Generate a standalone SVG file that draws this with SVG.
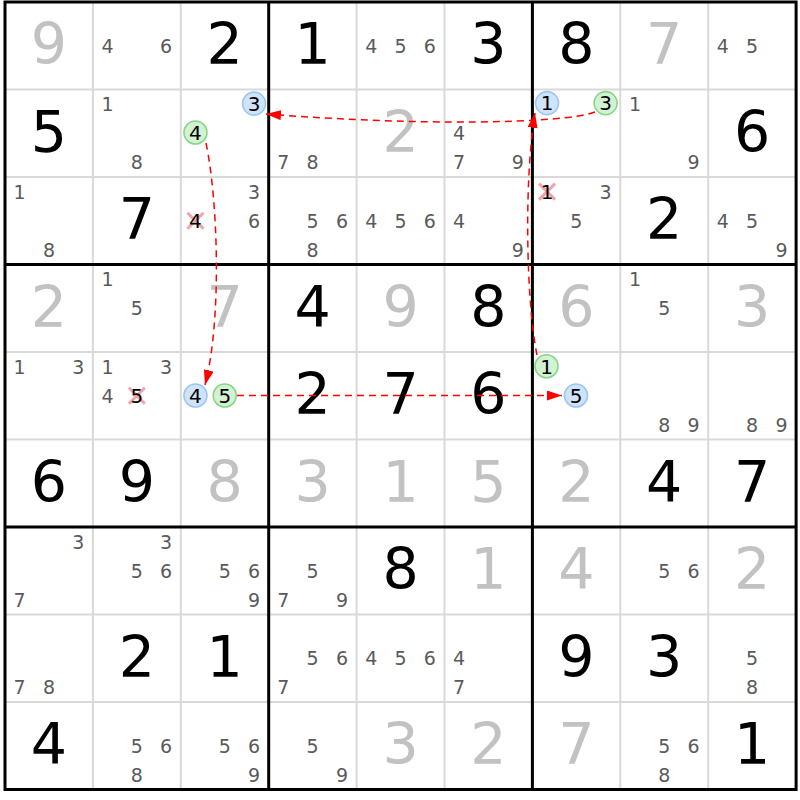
<svg xmlns="http://www.w3.org/2000/svg" width="800" height="800" viewBox="0 0 800 800">
<style>
text{font-family:"DejaVu Sans","Liberation Sans",sans-serif;text-anchor:middle}
.g{font-size:57px;fill:#000}
.s{font-size:57px;fill:#c2c2c2}
.c{font-size:19px;fill:#5a5a5a}
.k{font-size:20px;fill:#000}
.thin{stroke:#d9d9d9;stroke-width:2}
.thick{stroke:#000;stroke-width:3}
.bc{fill:#cfe3fb;stroke:#9cc6f2;stroke-width:1.6}
.gc{fill:#d3f2d3;stroke:#86d686;stroke-width:1.6}
.x{stroke:#f4a3aa;stroke-width:3}
.link{fill:none;stroke:#f00;stroke-width:1.5;stroke-dasharray:7 5}
</style>
<defs>
<marker id="ah" markerUnits="userSpaceOnUse" markerWidth="16" markerHeight="11" refX="15" refY="5" orient="auto">
<path d="M0,0 L15,5 L0,10 z" fill="#f00"/>
</marker>
</defs>
<rect x="0" y="0" width="800" height="800" fill="#fff"/>
<g id="grid">
<path class="thin" d="M92.9,2V789.5M180.8,2V789.5M356.6,2V789.5M444.5,2V789.5M620.3,2V789.5M708.2,2V789.5M5,89.5H796.1M5,177H796.1M5,352H796.1M5,439.5H796.1M5,614.5H796.1M5,702H796.1"/>
<path class="thick" d="M268.7,2V789.5M532.4,2V789.5M5,264.5H796.1M5,527H796.1"/>
<rect x="5" y="2" width="791.1" height="787.5" fill="none" stroke="#000" stroke-width="3"/>
</g>
<g id="r1">
<text class="s" x="48.95" y="64.3">9</text>
<g id="r1c2"><text class="c" x="107.55" y="52.6">4</text><text class="c" x="166.15" y="52.6">6</text></g>
<text class="g" x="224.75" y="64.3">2</text>
<text class="g" x="312.65" y="64.3">1</text>
<g id="r1c5"><text class="c" x="371.25" y="52.6">4</text><text class="c" x="400.55" y="52.6">5</text><text class="c" x="429.85" y="52.6">6</text></g>
<text class="g" x="488.45" y="64.3">3</text>
<text class="g" x="576.35" y="64.3">8</text>
<text class="s" x="664.25" y="64.3">7</text>
<g id="r1c9"><text class="c" x="722.85" y="52.6">4</text><text class="c" x="752.15" y="52.6">5</text></g>
</g>
<g id="r2">
<text class="g" x="48.95" y="151.8">5</text>
<g id="r2c2"><text class="c" x="107.55" y="111">1</text><text class="c" x="136.85" y="169.3">8</text></g>
<g id="r2c3">
<circle class="bc" cx="254.05" cy="103.6" r="11.5"/><text class="k" x="254.05" y="110.9">3</text>
<circle class="gc" cx="195.45" cy="132.5" r="11.5"/><text class="k" x="195.45" y="139.8">4</text>
</g>
<g id="r2c4"><text class="c" x="283.35" y="169.3">7</text><text class="c" x="312.65" y="169.3">8</text></g>
<text class="s" x="400.55" y="151.8">2</text>
<g id="r2c6"><text class="c" x="459.15" y="140.1">4</text><text class="c" x="459.15" y="169.3">7</text><text class="c" x="517.75" y="169.3">9</text></g>
<g id="r2c7">
<circle class="bc" cx="547.05" cy="103.1" r="11.5"/><text class="k" x="547.05" y="110.4">1</text>
<circle class="gc" cx="605.65" cy="103.1" r="11.5"/><text class="k" x="605.65" y="110.4">3</text>
</g>
<g id="r2c8"><text class="c" x="634.95" y="111">1</text><text class="c" x="693.55" y="169.3">9</text></g>
<text class="g" x="752.15" y="151.8">6</text>
</g>
<g id="r3">
<g id="r3c1"><text class="c" x="19.65" y="198.5">1</text><text class="c" x="48.95" y="256.8">8</text></g>
<text class="g" x="136.85" y="239.3">7</text>
<g id="r3c3"><text class="c" x="254.05" y="198.5">3</text>
<path class="x" d="M187.45,212.75l16,16M203.45,212.75l-16,16"/><text class="k" x="195.45" y="228">4</text>
<text class="c" x="254.05" y="227.6">6</text></g>
<g id="r3c4"><text class="c" x="312.65" y="227.6">5</text><text class="c" x="341.95" y="227.6">6</text><text class="c" x="312.65" y="256.8">8</text></g>
<g id="r3c5"><text class="c" x="371.25" y="227.6">4</text><text class="c" x="400.55" y="227.6">5</text><text class="c" x="429.85" y="227.6">6</text></g>
<g id="r3c6"><text class="c" x="459.15" y="227.6">4</text><text class="c" x="517.75" y="256.8">9</text></g>
<g id="r3c7"><path class="x" d="M539.05,183.6l16,16M555.05,183.6l-16,16"/><text class="k" x="547.05" y="198.9">1</text>
<text class="c" x="605.65" y="198.5">3</text><text class="c" x="576.35" y="227.6">5</text></g>
<text class="g" x="664.25" y="239.3">2</text>
<g id="r3c9"><text class="c" x="722.85" y="227.6">4</text><text class="c" x="752.15" y="227.6">5</text><text class="c" x="781.45" y="256.8">9</text></g>
</g>
<g id="r4">
<text class="s" x="48.95" y="326.8">2</text>
<g id="r4c2"><text class="c" x="107.55" y="286">1</text><text class="c" x="136.85" y="315.1">5</text></g>
<text class="s" x="224.75" y="326.8">7</text>
<text class="g" x="312.65" y="326.8">4</text>
<text class="s" x="400.55" y="326.8">9</text>
<text class="g" x="488.45" y="326.8">8</text>
<text class="s" x="576.35" y="326.8">6</text>
<g id="r4c8"><text class="c" x="634.95" y="286">1</text><text class="c" x="664.25" y="315.1">5</text></g>
<text class="s" x="752.15" y="326.8">3</text>
</g>
<g id="r5">
<g id="r5c1"><text class="c" x="19.65" y="373.5">1</text><text class="c" x="78.25" y="373.5">3</text></g>
<g id="r5c2"><text class="c" x="107.55" y="373.5">1</text><text class="c" x="166.15" y="373.5">3</text><text class="c" x="107.55" y="402.6">4</text>
<path class="x" d="M128.85,387.75l16,16M144.85,387.75l-16,16"/><text class="k" x="136.85" y="403">5</text></g>
<g id="r5c3">
<circle class="bc" cx="195.45" cy="395.5" r="11.5"/><text class="k" x="195.45" y="402.8">4</text>
<circle class="gc" cx="224.75" cy="395.5" r="11.5"/><text class="k" x="224.75" y="402.8">5</text>
</g>
<text class="g" x="312.65" y="414.3">2</text>
<text class="g" x="400.55" y="414.3">7</text>
<text class="g" x="488.45" y="414.3">6</text>
<g id="r5c7">
<circle class="gc" cx="546.5" cy="366.3" r="11.5"/><text class="k" x="546.5" y="373.6">1</text>
<circle class="bc" cx="576" cy="395.5" r="11.5"/><text class="k" x="576" y="402.8">5</text>
</g>
<g id="r5c8"><text class="c" x="664.25" y="431.8">8</text><text class="c" x="693.55" y="431.8">9</text></g>
<g id="r5c9"><text class="c" x="752.15" y="431.8">8</text><text class="c" x="781.45" y="431.8">9</text></g>
</g>
<g id="r6">
<text class="g" x="48.95" y="501.8">6</text>
<text class="g" x="136.85" y="501.8">9</text>
<text class="s" x="224.75" y="501.8">8</text>
<text class="s" x="312.65" y="501.8">3</text>
<text class="s" x="400.55" y="501.8">1</text>
<text class="s" x="488.45" y="501.8">5</text>
<text class="s" x="576.35" y="501.8">2</text>
<text class="g" x="664.25" y="501.8">4</text>
<text class="g" x="752.15" y="501.8">7</text>
</g>
<g id="r7">
<g id="r7c1"><text class="c" x="78.25" y="548.5">3</text><text class="c" x="19.65" y="606.8">7</text></g>
<g id="r7c2"><text class="c" x="166.15" y="548.5">3</text><text class="c" x="136.85" y="577.6">5</text><text class="c" x="166.15" y="577.6">6</text></g>
<g id="r7c3"><text class="c" x="224.75" y="577.6">5</text><text class="c" x="254.05" y="577.6">6</text><text class="c" x="254.05" y="606.8">9</text></g>
<g id="r7c4"><text class="c" x="312.65" y="577.6">5</text><text class="c" x="283.35" y="606.8">7</text><text class="c" x="341.95" y="606.8">9</text></g>
<text class="g" x="400.55" y="589.3">8</text>
<text class="s" x="488.45" y="589.3">1</text>
<text class="s" x="576.35" y="589.3">4</text>
<g id="r7c8"><text class="c" x="664.25" y="577.6">5</text><text class="c" x="693.55" y="577.6">6</text></g>
<text class="s" x="752.15" y="589.3">2</text>
</g>
<g id="r8">
<g id="r8c1"><text class="c" x="19.65" y="694.3">7</text><text class="c" x="48.95" y="694.3">8</text></g>
<text class="g" x="136.85" y="676.8">2</text>
<text class="g" x="224.75" y="676.8">1</text>
<g id="r8c4"><text class="c" x="312.65" y="665.1">5</text><text class="c" x="341.95" y="665.1">6</text><text class="c" x="283.35" y="694.3">7</text></g>
<g id="r8c5"><text class="c" x="371.25" y="665.1">4</text><text class="c" x="400.55" y="665.1">5</text><text class="c" x="429.85" y="665.1">6</text></g>
<g id="r8c6"><text class="c" x="459.15" y="665.1">4</text><text class="c" x="459.15" y="694.3">7</text></g>
<text class="g" x="576.35" y="676.8">9</text>
<text class="g" x="664.25" y="676.8">3</text>
<g id="r8c9"><text class="c" x="752.15" y="665.1">5</text><text class="c" x="752.15" y="694.3">8</text></g>
</g>
<g id="r9">
<text class="g" x="48.95" y="764.3">4</text>
<g id="r9c2"><text class="c" x="136.85" y="752.6">5</text><text class="c" x="166.15" y="752.6">6</text><text class="c" x="136.85" y="781.8">8</text></g>
<g id="r9c3"><text class="c" x="224.75" y="752.6">5</text><text class="c" x="254.05" y="752.6">6</text><text class="c" x="254.05" y="781.8">9</text></g>
<g id="r9c4"><text class="c" x="312.65" y="752.6">5</text><text class="c" x="341.95" y="781.8">9</text></g>
<text class="s" x="400.55" y="764.3">3</text>
<text class="s" x="488.45" y="764.3">2</text>
<text class="s" x="576.35" y="764.3">7</text>
<g id="r9c8"><text class="c" x="664.25" y="752.6">5</text><text class="c" x="693.55" y="752.6">6</text><text class="c" x="664.25" y="781.8">8</text></g>
<text class="g" x="752.15" y="764.3">1</text>
</g>
<g id="connectors">
<path class="link" marker-end="url(#ah)" d="M595,112 C562,124 420,126 266,114"/>
<path class="link" marker-end="url(#ah)" d="M537,355 C526,300 524,180 535,113"/>
<path class="link" marker-end="url(#ah)" d="M206,143 C218,200 222,320 205,385"/>
<path class="link" marker-end="url(#ah)" d="M237,395.5 L562,395.5"/>
</g>
</svg>
